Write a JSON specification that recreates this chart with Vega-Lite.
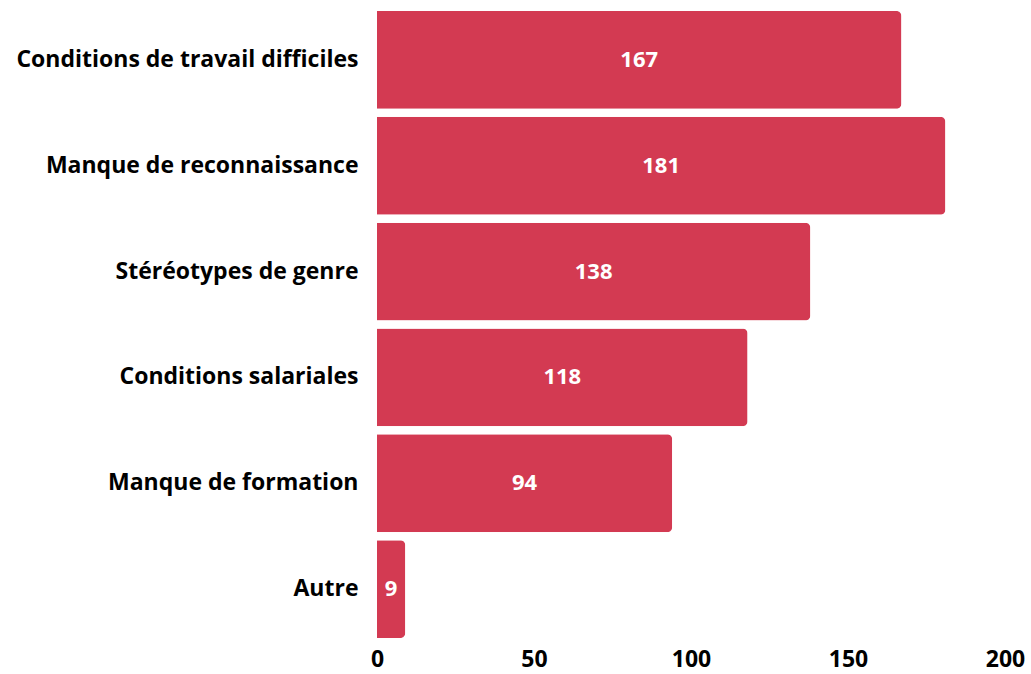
{
  "$schema": "https://vega.github.io/schema/vega-lite/v6.json",
  "autosize": "none",
  "padding": {"left": 377, "top": 7, "right": 26, "bottom": 32},
  "width": 628,
  "height": 635,
  "background": "white",
  "config": {"view": {"stroke": null}, "font": "Open Sans"},
  "data": {"values": [
    {"raison": "Conditions de travail difficiles", "n": 167},
    {"raison": "Manque de reconnaissance", "n": 181},
    {"raison": "Stéréotypes de genre", "n": 138},
    {"raison": "Conditions salariales", "n": 118},
    {"raison": "Manque de formation", "n": 94},
    {"raison": "Autre", "n": 9}
  ]},
  "encoding": {
    "y": {"field": "raison", "type": "nominal", "sort": null,
      "scale": {"paddingInner": 0.076, "paddingOuter": 0.038},
      "axis": {"title": null, "domain": false, "ticks": false, "labelPadding": 19,
        "labelFont": "Open Sans", "labelFontWeight": "bold", "labelFontSize": 23, "labelColor": "#000", "labelLimit": 400}}
  },
  "layer": [
    {"mark": {"type": "bar", "color": "#D33A52", "cornerRadiusEnd": 5},
      "encoding": {"x": {"field": "n", "type": "quantitative",
        "scale": {"domain": [0, 200]},
        "axis": {"title": null, "domain": false, "ticks": false, "grid": false, "values": [0, 50, 100, 150, 200],
          "labelPadding": 6, "labelFont": "Open Sans", "labelFontWeight": "bold", "labelFontSize": 23, "labelColor": "#000", "labelFlush": false}}}},
    {"mark": {"type": "text", "color": "white", "font": "Open Sans", "fontWeight": "bold", "fontSize": 22, "align": "center", "baseline": "middle"},
      "encoding": {"x": {"field": "n", "type": "quantitative", "scale": {"domain": [0, 400]}, "axis": null}, "text": {"field": "n"}}}
  ],
  "resolve": {"scale": {"x": "independent"}, "axis": {"x": "independent"}}
}
